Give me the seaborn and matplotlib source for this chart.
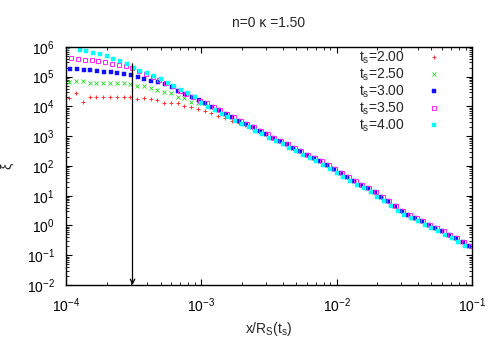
import numpy as np
import pandas as pd
import matplotlib
matplotlib.use("Agg")
import matplotlib.pyplot as plt
import seaborn as sns
from matplotlib.ticker import LogLocator, NullFormatter

sns.set_style("ticks")
plt.rcParams["font.family"] = ["Liberation Sans", "DejaVu Sans"]
plt.rcParams["mathtext.fontset"] = "custom"
plt.rcParams["mathtext.rm"] = "Liberation Sans"
plt.rcParams["mathtext.it"] = "Liberation Sans:italic"

# ---- data (log10 values) ----
labels = ["t$_\\mathrm{s}$=2.00", "t$_\\mathrm{s}$=2.50", "t$_\\mathrm{s}$=3.00",
          "t$_\\mathrm{s}$=3.50", "t$_\\mathrm{s}$=4.00"]
colors = ["#ff2020", "#20dd20", "#1010ff", "#ff20ff", "#00ffff"]
markers = ["+", "x", "s", "s", "s"]

log_x_start = -4.0
log_x_step = 0.05
# per-series shift of the x grid (dex)
x_shift = [0.025, 0.025, 0.03, 0.04, 0.0]

# common tail (all series coincide), grid k = 20 .. 59
tail_logy = [4.115, 3.99, 3.87, 3.75, 3.635, 3.52, 3.41, 3.305, 3.19, 3.07,
             2.955, 2.845, 2.73, 2.615, 2.495, 2.375, 2.27, 2.15, 2.02, 1.90,
             1.775, 1.635, 1.495, 1.37, 1.245, 1.115, 0.96, 0.81, 0.665, 0.50,
             0.365, 0.255, 0.14, 0.025, -0.085, -0.20, -0.325, -0.43, -0.54, -0.675]

# series-specific head, grid k = 0 ..
head_ts200 = [4.27, 4.44, 4.16, 4.33, 4.33, 4.31, 4.31, 4.31, 4.31, 4.31,
              4.24, 4.27, 4.24, 4.20, 4.13, 4.13, 4.11, 4.02, 3.97, 3.90,
              3.85, 3.77, 3.69, 3.60, 3.51, 3.43, 3.36]
head_ts250 = [4.81, 4.87, 4.86, 4.80, 4.80, 4.80, 4.78, 4.78, 4.78, 4.75,
              4.70, 4.67, 4.62, 4.555, 4.50, 4.44, 4.33, 4.28, 4.16, 4.10]
head_ts300 = [5.26, 5.25, 5.23, 5.22, 5.19, 5.16, 5.14, 5.12, 5.08, 5.06,
              5.00, 4.93, 4.86, 4.82, 4.76, 4.65, 4.53, 4.42, 4.31, 4.22]
head_ts350 = [5.64, 5.60, 5.57, 5.55, 5.52, 5.50, 5.44, 5.39, 5.35, 5.28,
              5.19, 5.10, 4.99, 4.89, 4.78, 4.67, 4.53, 4.42, 4.33, 4.195]
head_ts400 = [5.96, np.nan, 5.90, 5.87, 5.81, 5.755, 5.70, 5.61, 5.51, 5.41,
              5.30, 5.20, 5.12, 5.01, 4.91, 4.80, 4.69, 4.555, 4.44, 4.33]
heads = [head_ts200, head_ts250, head_ts300, head_ts350, head_ts400]

arrow_x = 3.1e-4
arrow_top = 2.7e5
arrow_bottom = 1e-2

title = "n=0 \u03ba =1.50"

# ---- build long table ----
rows = []
for lab, head, sh in zip(labels, heads, x_shift):
    ly = list(head) + tail_logy[len(head) - 20:]
    for k, v in enumerate(ly):
        if np.isnan(v):
            continue
        rows.append({"series": lab,
                     "x": 10 ** (log_x_start + log_x_step * k + sh),
                     "y": 10 ** v})
df = pd.DataFrame(rows)

fig = plt.figure(figsize=(5, 3.5), dpi=100)
ax = fig.add_axes([0.132, 0.1857, 0.812, 0.6803])

msizes = [3.4, 3.0, 2.6, 3.2, 3.1]
for lab, col, mk, ms in zip(labels, colors, markers, msizes):
    sub = df[df["series"] == lab]
    kw = dict(marker=mk, linestyle="", markersize=ms, color=col,
              markeredgecolor=col)
    if lab == labels[3]:
        kw.update(markerfacecolor="none", markeredgewidth=0.7)
    elif mk in ("+", "x"):
        kw.update(markeredgewidth=0.6)
    else:
        kw.update(markerfacecolor=col, markeredgewidth=0.3)
    sns.lineplot(data=sub, x="x", y="y", ax=ax, label=lab, sort=False,
                 estimator=None, **kw)

ax.set_xscale("log")
ax.set_yscale("log")
ax.set_xlim(1e-4, 1e-1)
ax.set_ylim(1e-2, 1e6)

ax.annotate("", xy=(arrow_x, arrow_bottom), xytext=(arrow_x, arrow_top),
            arrowprops=dict(arrowstyle="->", color="black", lw=0.9,
                            mutation_scale=8, shrinkA=0, shrinkB=0))

for axis in (ax.xaxis, ax.yaxis):
    axis.set_major_locator(LogLocator(base=10, numticks=20))
    axis.set_minor_locator(LogLocator(base=10, subs=np.arange(2, 10), numticks=20))
    axis.set_minor_formatter(NullFormatter())
ax.tick_params(which="both", direction="in", top=True, right=True,
               labelsize=10, colors="black")
ax.tick_params(which="major", length=4, width=0.8, pad=8)
ax.tick_params(which="minor", length=2, width=0.6)
for s in ax.spines.values():
    s.set_linewidth(1.0)
    s.set_color("black")

ax.set_xlabel("x/R$_\\mathrm{S}$(t$_\\mathrm{s}$)", fontsize=10, labelpad=4)
ax.set_ylabel("\u03be", fontsize=10)
ax.yaxis.set_label_coords(-0.128, 0.5)
fig.text(0.538, 0.935, title, ha="center", va="center", fontsize=10)

leg = ax.legend(loc="upper right", bbox_to_anchor=(453 / 500, 1 - 37 / 350),
                bbox_transform=fig.transFigure, frameon=False, markerfirst=False,
                fontsize=10, handlelength=1.0, handletextpad=1.6,
                labelspacing=0.05, borderpad=0.4)

fig.savefig("out.png", dpi=100)
